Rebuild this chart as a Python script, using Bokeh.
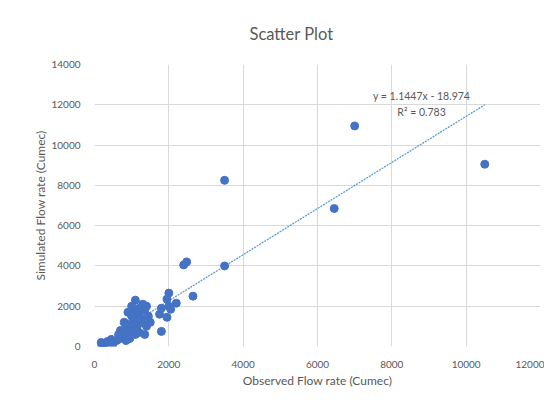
from bokeh.plotting import figure
from bokeh.models import Range1d, Label, FixedTicker, ColumnDataSource
from bokeh.embed import file_html
from bokeh.resources import INLINE

observed = [200, 220, 250, 300, 180, 350, 450, 500, 600,
            700, 750, 700, 800, 850, 900, 850, 950, 1000, 1000, 1050,
            1100, 1100, 1150, 1200, 1200, 1250, 1300, 1300, 1350, 1400,
            1400, 1350, 1450, 1500, 1000, 900, 950, 1100, 1200, 1050, 800, 650,
            1750, 1800, 1800, 1950, 1950, 2000, 2000, 2050, 2200, 2650,
            2400, 2480, 3500, 3500, 6450, 7000, 10500]
simulated = [50, 150, 0, 100, 200, 250, 350, 150, 300,
             800, 500, 400, 1200, 900, 600, 300, 1100, 1500, 800, 1800,
             2300, 1300, 1000, 1600, 700, 1400, 2100, 1200, 1800, 1000,
             2000, 600, 1500, 1200, 2000, 1700, 400, 600, 1900, 1100, 700, 600,
             1600, 1900, 750, 2350, 1450, 2650, 2000, 1850, 2150, 2500,
             4050, 4200, 4000, 8250, 6850, 10950, 9050]
slope = 1.1447
intercept = -18.974
title_text = "Scatter Plot"
eq_text = "y = 1.1447x - 18.974"
r2_text = "R\u00b2 = 0.783"
x_ticks = [0, 2000, 4000, 6000, 8000, 10000, 12000]
y_ticks = [0, 2000, 4000, 6000, 8000, 10000, 12000, 14000]

FONT = "Lato"
GREY = "#595959"

p = figure(width=544, height=390, output_backend="svg", toolbar_location=None,
           x_range=Range1d(0, 12000), y_range=Range1d(0, 14000),
           min_border_left=94, min_border_right=4, min_border_top=63, min_border_bottom=44,
           title=title_text)
p.title.align = "left"
p.title.offset = 155
p.title.text_font = FONT
p.title.text_font_size = "16.5px"
p.title.text_font_style = "normal"
p.title.text_color = GREY
p.title.standoff = 42
p.outline_line_color = None

for ax in (p.xaxis[0], p.yaxis[0]):
    ax.axis_line_color = None
    ax.major_tick_line_color = None
    ax.minor_tick_line_color = None
    ax.major_label_text_font = FONT
    ax.major_label_text_font_size = "10px"
    ax.major_label_text_color = GREY
    ax.axis_label_text_font = FONT
    ax.axis_label_text_font_size = "12px"
    ax.axis_label_text_font_style = "normal"
    ax.axis_label_text_color = GREY
    ax.major_label_standoff = 8

p.xaxis.ticker = FixedTicker(ticks=x_ticks)
p.yaxis.ticker = FixedTicker(ticks=y_ticks)
p.xaxis.axis_label = "Observed Flow rate (Cumec)"
p.yaxis.axis_label = "Simulated Flow rate (Cumec)"
p.xaxis.axis_label_standoff = 2
p.yaxis.axis_label_standoff = 0
p.xgrid.grid_line_color = "#d9d9d9"
p.ygrid.grid_line_color = "#d9d9d9"
p.xgrid.ticker = FixedTicker(ticks=x_ticks)
p.ygrid.ticker = FixedTicker(ticks=y_ticks)

xmin, xmax = min(observed), max(observed)
p.line([xmin, xmax], [slope * xmin + intercept, slope * xmax + intercept],
       line_color="#5b9bd5", line_width=1.3, line_dash="2 1")

src = ColumnDataSource(dict(x=observed, y=simulated))
p.scatter("x", "y", source=src, size=8, fill_color="#4472c4", line_color="#4472c4")

p.add_layout(Label(x=8800, y=12450, text=eq_text, text_align="center",
                   text_baseline="middle", text_font=FONT, text_font_size="10.5px",
                   text_color=GREY))
p.add_layout(Label(x=8800, y=11620, text=r2_text, text_align="center",
                   text_baseline="middle", text_font=FONT, text_font_size="10.5px",
                   text_color=GREY))

open("out.html", "w").write(file_html(p, INLINE))
